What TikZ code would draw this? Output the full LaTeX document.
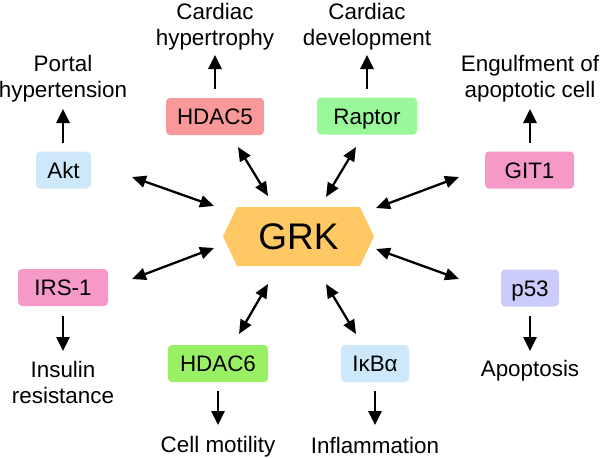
\documentclass[tikz,border=0pt]{standalone}
\usepackage{fontspec}
\setmainfont{Liberation Sans}
\usetikzlibrary{arrows.meta}
\definecolor{cakt}{RGB}{204,232,250}
\definecolor{chdacf}{RGB}{248,152,152}
\definecolor{craptor}{RGB}{153,248,153}
\definecolor{cgit}{RGB}{245,153,200}
\definecolor{chdacs}{RGB}{153,240,100}
\definecolor{cpff}{RGB}{204,204,250}
\definecolor{cgrk}{RGB}{254,200,100}
\newcommand\labfont{\fontsize{22.4}{26}\selectfont}
\tikzset{
  box/.style={rounded corners=4pt, minimum height=37pt, inner sep=0pt,
    text height=16pt, text depth=0pt, font=\labfont},
  lab/.style={align=center, font=\labfont, inner sep=0pt},
  arr/.style={-{Triangle[length=14pt,width=13pt]}, line width=2.6pt},
  darr/.style={{Triangle[length=14pt,width=12pt]}-{Triangle[length=14pt,width=12pt]}, line width=2.3pt},
}
\begin{document}
\begin{tikzpicture}[x=1pt,y=-1pt]
\useasboundingbox (0,0) rectangle (600,458);
% central hexagon
\fill[cgrk] (223,236.5) -- (237,207) -- (360,207) -- (374,236.5) -- (360,266) -- (237,266) -- cycle;
\node[font=\fontsize{37}{40}\selectfont, inner sep=0pt] (grk) at (298.5,237) {GRK};
% boxes
\node[box, fill=cakt, minimum width=55pt] (akt) at (63.5,170) {Akt};
\node[box, fill=chdacf, minimum width=98pt] (hdacf) at (215,116.5) {HDAC5};
\node[box, fill=craptor, minimum width=100pt] (raptor) at (367,116) {Raptor};
\node[box, fill=cgit, minimum width=89pt] (git) at (529.5,170) {GIT1};
\node[box, fill=cgit, minimum width=90pt] (irs) at (63,287.5) {IRS-1};
\node[box, fill=chdacs, minimum width=100pt] (hdacs) at (218,363.5) {HDAC6};
\node[box, fill=cakt, minimum width=68pt] (ikb) at (375,363.5) {IκBα};
\node[box, fill=cpff, minimum width=58pt] (pff) at (530,288) {p53};
% outcome labels
\node[lab] (portal) at (63,79) {Portal\\hypertension};
\node[lab] (hyper) at (215,27) {Cardiac\\hypertrophy};
\node[lab] (devel) at (367,27) {Cardiac\\development};
\node[lab] (engulf) at (530,79) {Engulfment of\\apoptotic cell};
\node[lab] (insulin) at (63,382) {Insulin\\resistance};
\node[lab] (motility) at (218,447) {Cell motility};
\node[lab] (inflam) at (375,445) {Inflammation};
\node[lab] (apop) at (530,371) {Apoptosis};
% single arrow ends
\coordinate (aktS) at (63,143);   \coordinate (aktE) at (63,109);
\coordinate (hfS) at (215,89);    \coordinate (hfE) at (215,55);
\coordinate (raS) at (367,89);    \coordinate (raE) at (367,55);
\coordinate (giS) at (530,143);   \coordinate (giE) at (530,109);
\coordinate (irS) at (63,316);    \coordinate (irE) at (63,351);
\coordinate (hsS) at (218,391);   \coordinate (hsE) at (218,425);
\coordinate (ikS) at (375,391);   \coordinate (ikE) at (375,425);
\coordinate (pfS) at (530,316);   \coordinate (pfE) at (530,351);
\draw[arr] (aktS) -- (aktE);
\draw[arr] (hfS) -- (hfE);
\draw[arr] (raS) -- (raE);
\draw[arr] (giS) -- (giE);
\draw[arr] (irS) -- (irE);
\draw[arr] (hsS) -- (hsE);
\draw[arr] (ikS) -- (ikE);
\draw[arr] (pfS) -- (pfE);
% double arrow ends
\coordinate (d1a) at (132,177); \coordinate (d1b) at (214,206);
\coordinate (d2a) at (238,147); \coordinate (d2b) at (268,196);
\coordinate (d3a) at (356,147); \coordinate (d3b) at (326,197);
\coordinate (d4a) at (459,177); \coordinate (d4b) at (376,208);
\coordinate (d5a) at (132,279); \coordinate (d5b) at (214,248);
\coordinate (d6a) at (239,334); \coordinate (d6b) at (268,284);
\coordinate (d7a) at (356,334); \coordinate (d7b) at (326,284);
\coordinate (d8a) at (459,279); \coordinate (d8b) at (376,249);
\foreach \i in {1,...,8} {\draw[darr] (d\i a) -- (d\i b);}
\end{tikzpicture}
\end{document}
